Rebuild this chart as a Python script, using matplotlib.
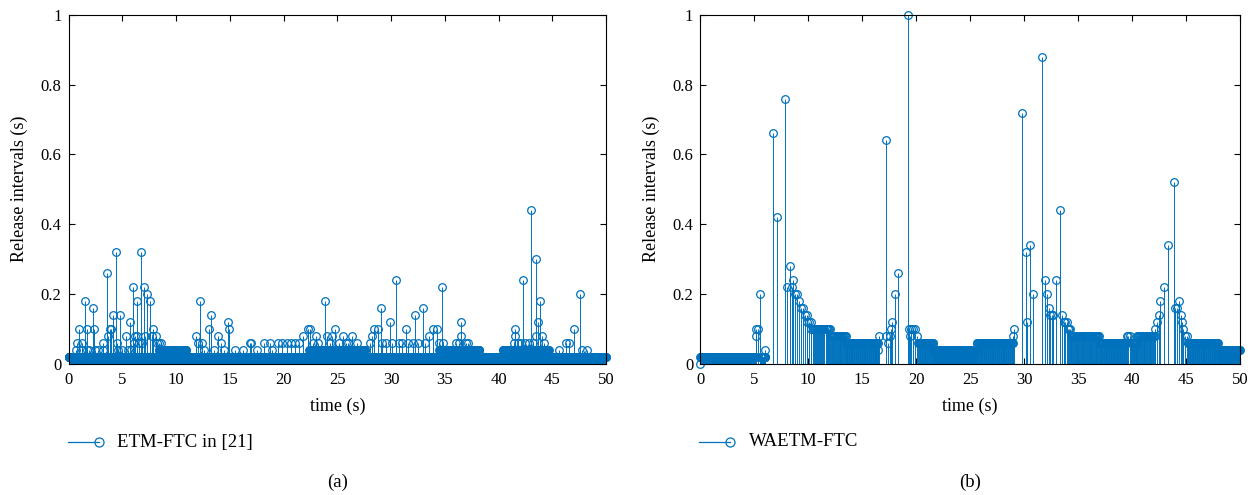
"""
Release intervals of two event-triggered schemes, stem plots side by side.
"""

import matplotlib.pyplot as plt
import numpy as np
from matplotlib.lines import Line2D

# ---- data ------------------------------------------------------------------
# steady stretches: (start time, end time, release interval)
left_runs = [
    (0.0, 3.6, 0.02), (3.6, 8.4, 0.02), (8.4, 11.0, 0.04), (11.0, 22.4, 0.02),
    (22.4, 27.6, 0.04), (27.6, 34.5, 0.02), (34.5, 38.2, 0.04),
    (38.2, 40.4, 0.02), (40.4, 44.7, 0.04), (44.7, 50.0, 0.02),
]
left_evt_t = [
    0.73, 0.79, 1.0, 1.25, 1.3, 1.56, 1.72, 1.75, 1.95, 2.31, 2.4, 2.5, 2.7,
    3.18, 3.25, 3.55, 3.67, 3.83, 3.98, 4.14, 4.45, 4.5, 4.6, 4.82, 5.0, 5.34,
    5.5, 5.68, 5.8, 5.97, 6.1, 6.2, 6.37, 6.4, 6.6, 6.77, 6.85, 6.99, 7.1, 7.3,
    7.55, 7.76, 7.9, 8.1, 8.2, 8.4, 8.6,
    11.9, 12.0, 12.2, 12.4, 12.6, 13.06, 13.3, 13.5, 13.9, 14.2, 14.5, 14.8,
    14.95, 15.5, 16.2, 16.9, 17.0, 17.5, 18.2, 18.7, 18.9, 19.5, 19.9, 20.3,
    20.7, 21.1, 21.4, 21.8, 22.3, 22.5, 22.7, 23.0, 23.2, 23.84, 24.0, 24.3,
    24.5, 24.77, 25.2, 25.5, 25.8, 26.0, 26.4, 26.8, 27.3, 28.0, 28.2, 28.4,
    28.8, 29.04, 29.2, 29.5, 29.88, 30.1, 30.44, 30.7, 31.0, 31.37, 31.6, 32.0,
    32.2, 32.5, 32.97, 33.2, 33.5, 33.9, 34.3, 34.5, 34.74, 34.8, 35.2, 36.0,
    36.3, 36.5, 36.55, 37.0, 37.2, 38.2, 41.4, 41.5, 41.55, 41.8, 42.1, 42.27,
    42.5, 42.8, 42.98, 43.2, 43.45, 43.5, 43.66, 43.88, 44.0, 44.2, 45.6, 46.3,
    46.6, 47.0, 47.54, 47.8, 48.2,
]
left_evt_v = [
    0.04, 0.06, 0.10, 0.06, 0.04, 0.18, 0.10, 0.04, 0.04, 0.16, 0.10, 0.04, 0.04,
    0.06, 0.04, 0.26, 0.08, 0.10, 0.10, 0.14, 0.32, 0.06, 0.04, 0.14, 0.04, 0.08,
    0.04, 0.12, 0.04, 0.22, 0.06, 0.08, 0.18, 0.08, 0.06, 0.32, 0.06, 0.22, 0.08, 0.20,
    0.18, 0.08, 0.10, 0.08, 0.06, 0.06, 0.06,
    0.08, 0.06, 0.18, 0.06, 0.04, 0.10, 0.14, 0.04, 0.08, 0.06, 0.04, 0.12,
    0.10, 0.04, 0.04, 0.06, 0.06, 0.04, 0.06, 0.06, 0.04, 0.06, 0.06, 0.06,
    0.06, 0.06, 0.06, 0.08, 0.10, 0.10, 0.06, 0.08, 0.06, 0.18, 0.08, 0.06,
    0.08, 0.10, 0.06, 0.08, 0.06, 0.06, 0.08, 0.06, 0.04, 0.06, 0.08, 0.10,
    0.10, 0.16, 0.06, 0.06, 0.12, 0.06, 0.24, 0.06, 0.06, 0.10, 0.06, 0.06,
    0.14, 0.06, 0.16, 0.06, 0.08, 0.10, 0.10, 0.06, 0.22, 0.06, 0.04, 0.06,
    0.06, 0.12, 0.08, 0.06, 0.06, 0.04, 0.06, 0.10, 0.08, 0.06, 0.06, 0.24,
    0.06, 0.06, 0.44, 0.06, 0.30, 0.08, 0.12, 0.18, 0.08, 0.06, 0.04, 0.06,
    0.06, 0.10, 0.20, 0.04, 0.04,
]

right_runs = [
    (0.0, 5.1, 0.02), (5.6, 6.0, 0.02), (10.3, 12.1, 0.10), (12.1, 13.5, 0.08),
    (13.5, 16.5, 0.06), (20.2, 21.6, 0.06), (21.6, 25.6, 0.04),
    (25.6, 29.0, 0.06), (34.3, 37.0, 0.08), (37.0, 39.5, 0.06),
    (39.9, 40.5, 0.06), (40.5, 42.1, 0.08), (45.15, 48.0, 0.06),
    (48.0, 50.0, 0.04),
]
right_evt_t = [
    0.0, 5.13, 5.2, 5.3, 5.5, 6.02, 6.7, 7.07, 7.87, 8.05, 8.3, 8.45, 8.61,
    8.74, 8.98, 9.17, 9.35, 9.54, 9.72, 9.85, 9.91, 10.1, 10.28,
    16.5, 16.6, 17.19, 17.25, 17.4, 17.56, 17.65, 17.8, 18.0, 18.3, 19.26,
    19.3, 19.4, 19.5, 19.7, 19.9, 20.1,
    29.0, 29.07, 29.81, 30.13, 30.25, 30.56, 30.78, 31.67, 31.89, 32.1, 32.26,
    32.4, 32.55, 32.7, 32.94, 33.34, 33.5, 33.7, 33.82, 33.95, 34.05, 34.15,
    34.25, 39.5, 39.6, 39.8,
    42.16, 42.35, 42.47, 42.63, 42.94, 43.34, 43.86, 44.0, 44.2, 44.35, 44.5,
    44.6, 44.7, 44.9, 45.05,
]
right_evt_v = [
    0.0, 0.10, 0.08, 0.10, 0.20, 0.04, 0.66, 0.42, 0.76, 0.22, 0.28, 0.22, 0.24,
    0.20, 0.20, 0.18, 0.16, 0.16, 0.14, 0.14, 0.12, 0.12, 0.12,
    0.04, 0.08, 0.64, 0.08, 0.06, 0.08, 0.10, 0.12, 0.20, 0.26, 1.00,
    0.10, 0.08, 0.10, 0.10, 0.10, 0.08,
    0.08, 0.10, 0.72, 0.32, 0.12, 0.34, 0.20, 0.88, 0.24, 0.20, 0.16,
    0.14, 0.14, 0.14, 0.24, 0.44, 0.14, 0.12, 0.12, 0.12, 0.10, 0.10,
    0.10, 0.08, 0.08, 0.08,
    0.10, 0.12, 0.14, 0.18, 0.22, 0.34, 0.52, 0.16, 0.16, 0.18, 0.14,
    0.12, 0.10, 0.08, 0.08,
]

panels = [
    (left_runs, left_evt_t, left_evt_v, "ETM-FTC in [21]", "(a)"),
    (right_runs, right_evt_t, right_evt_v, "WAETM-FTC", "(b)"),
]

BLUE = "#0072BD"
plt.rcParams["font.family"] = ["Liberation Serif", "DejaVu Serif"]

fig = plt.figure(figsize=(12.56, 4.95), dpi=100)
W, H = 1256, 495
axes_px = [(68.5, 537.5), (700.3, 539.7)]  # left edge, width in pixels

for (runs, et, ev, name, tag), (x0, w) in zip(panels, axes_px):
    ax = fig.add_axes([x0 / W, 1 - 363.5 / H, w / W, 348.5 / H])

    # expand the steady stretches into individual releases
    t = [np.arange(a, b, d) for a, b, d in runs]
    v = [np.full(len(seg), d) for seg, (_, _, d) in zip(t, runs)]
    t = np.concatenate(t + [np.asarray(et)])
    v = np.concatenate(v + [np.asarray(ev)])

    markers, stems, base = ax.stem(t, v, linefmt="-", markerfmt="o", basefmt=" ")
    stems.set_color(BLUE)
    stems.set_linewidth(0.7)
    markers.set_markerfacecolor("none")
    markers.set_markeredgecolor(BLUE)
    markers.set_markersize(5.5)
    markers.set_markeredgewidth(0.9)
    markers.set_clip_on(False)

    ax.set_xlim(0, 50)
    ax.set_ylim(0, 1)
    ax.set_xticks(np.arange(0, 51, 5))
    ax.set_yticks([0, 0.2, 0.4, 0.6, 0.8, 1])
    ax.set_yticklabels(["0", "0.2", "0.4", "0.6", "0.8", "1"])
    ax.tick_params(direction="in", top=True, right=True, length=4,
                   labelsize=12, width=0.8)
    ax.tick_params(axis="x", pad=6)
    ax.tick_params(axis="y", pad=5)
    for s in ax.spines.values():
        s.set_linewidth(0.8)
    ax.set_xlabel("time (s)", fontsize=13, labelpad=7)
    ax.set_ylabel("Release intervals (s)", fontsize=13, labelpad=9)

    # legend drawn below the axes, MATLAB style
    ly = 1 - 442 / H
    fig.add_artist(Line2D([(x0 - 1) / W, (x0 + 30) / W], [ly, ly],
                          color=BLUE, lw=0.9))
    fig.add_artist(Line2D([(x0 + 30) / W], [ly], marker="o", ms=6.5,
                          mfc="none", mec=BLUE, mew=0.9, color=BLUE))
    fig.text((x0 + 49) / W, ly, name, fontsize=13.5, va="center")
    fig.text((x0 + w / 2) / W, 1 - 482 / H, tag, fontsize=13.5,
             ha="center", va="center")

fig.savefig("out.png", dpi=100)
